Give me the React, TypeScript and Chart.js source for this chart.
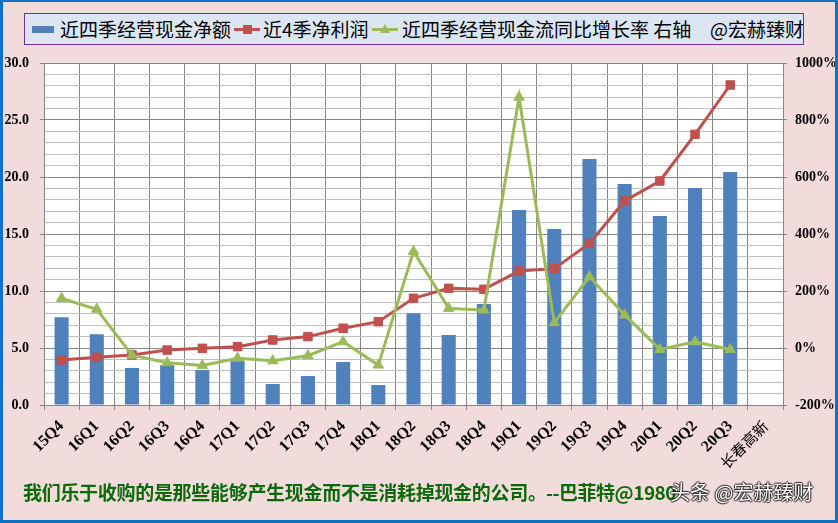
import React, { useEffect, useRef } from "react";
import { Chart, registerables } from "chart.js";

Chart.register(...registerables);

const categories = [
  "15Q4", "16Q1", "16Q2", "16Q3", "16Q4", "17Q1", "17Q2", "17Q3", "17Q4", "18Q1",
  "18Q2", "18Q3", "18Q4", "19Q1", "19Q2", "19Q3", "19Q4", "20Q1", "20Q2", "20Q3", "长春高新",
];
const cashFlow = [7.7, 6.2, 3.25, 3.5, 3.07, 3.9, 1.84, 2.54, 3.77, 1.75, 8.05, 6.14, 8.86, 17.1, 15.44, 21.58, 19.39, 16.58, 19.04, 20.44, null];
const netProfit = [3.95, 4.18, 4.39, 4.82, 4.97, 5.12, 5.7, 6.0, 6.73, 7.31, 9.36, 10.23, 10.15, 11.75, 11.96, 14.18, 17.9, 19.65, 23.74, 28.07, null];
const growth = [174, 136, -25, -52, -61, -36, -45, -27, 22, -60, 339, 139, 133, 880, 89, 250, 116, -5, 22, -5, null];

const seriesNames = ["近四季经营现金净额", "近4季净利润", "近四季经营现金流同比增长率 右轴"];
const credit = "@宏赫臻财";
const quoteMain = "我们乐于收购的是那些能够产生现金而不是消耗掉现金的公司。";
const quoteTail = "--巴菲特@1980";
const watermark = "头条 @宏赫臻财";

const BLUE = "#4F81BD";
const RED = "#C0504D";
const GREEN = "#9BBB59";
const PINK = "#F2DCDB";
const GRID_MAJOR = "#868686";
const GRID_MINOR = "#C0C0C0";

const bgPlugin = {
  id: "bgPlugin",
  beforeDraw(chart: any) {
    const { ctx, chartArea, width, height } = chart;
    ctx.save();
    ctx.fillStyle = PINK;
    ctx.fillRect(0, 0, width, height);
    ctx.fillStyle = "#FFFFFF";
    ctx.fillRect(chartArea.left, chartArea.top, chartArea.right - chartArea.left, chartArea.bottom - chartArea.top);
    ctx.restore();
  },
  afterDraw(chart: any) {
    const { ctx, width, height } = chart;
    ctx.save();
    ctx.fillStyle = "#1070C4";
    ctx.fillRect(0, 0, width, 2);
    ctx.fillRect(0, 0, 3, height);
    ctx.fillRect(width - 3, 0, 3, height);
    ctx.fillRect(0, height - 3, width, 3);
    ctx.restore();
  },
};

export default function App() {
  const ref = useRef<HTMLCanvasElement | null>(null);

  useEffect(() => {
    if (!ref.current) return;
    const chart = new Chart(ref.current, {
      type: "bar",
      data: {
        labels: categories,
        datasets: [
          {
            type: "line",
            label: seriesNames[2],
            data: growth,
            yAxisID: "y1",
            borderColor: GREEN,
            backgroundColor: GREEN,
            borderWidth: 3,
            pointStyle: "triangle",
            pointRadius: 6,
            pointBorderWidth: 1,
            tension: 0,
            order: 0,
          },
          {
            type: "line",
            label: seriesNames[1],
            data: netProfit,
            yAxisID: "y",
            borderColor: RED,
            backgroundColor: RED,
            borderWidth: 3,
            pointStyle: "rect",
            pointRadius: 6,
            pointBorderWidth: 1,
            tension: 0,
            order: 1,
          },
          {
            type: "bar",
            label: seriesNames[0],
            data: cashFlow,
            yAxisID: "y",
            backgroundColor: BLUE,
            borderWidth: 0,
            categoryPercentage: 1,
            barPercentage: 0.4,
            order: 2,
          },
        ],
      },
      options: {
        responsive: false,
        animation: false,
        devicePixelRatio: 1,
        layout: { padding: { top: 63, left: 0, right: 0, bottom: 0 } },
        plugins: { legend: { display: false }, tooltip: { enabled: false } },
        scales: {
          x: {
            offset: true,
            grid: { offset: true, color: GRID_MAJOR, tickColor: GRID_MAJOR, tickLength: 5, lineWidth: 1 },
            border: { color: GRID_MAJOR },
            ticks: {
              autoSkip: false,
              maxRotation: 45,
              minRotation: 45,
              padding: 7,
              color: "#000000",
              font: (ctx: any) =>
                ctx.index === 20
                  ? { family: "'Noto Sans CJK SC'", size: 15, weight: "normal" }
                  : { family: "'Liberation Serif'", size: 16, weight: "bold" },
            },
            afterFit: (s: any) => {
              s.height = 118;
              s.paddingLeft = 0;
              s.paddingRight = 0;
            },
          },
          y: {
            position: "left",
            min: 0,
            max: 30,
            grid: {
              color: (ctx: any) => (ctx.tick && Math.round(ctx.tick.value) % 5 === 0 ? GRID_MAJOR : GRID_MINOR),
              tickColor: (ctx: any) => (ctx.tick && Math.round(ctx.tick.value) % 5 === 0 ? GRID_MAJOR : "rgba(0,0,0,0)"),
              tickLength: 4,
            },
            border: { color: GRID_MAJOR },
            ticks: {
              stepSize: 1,
              autoSkip: false,
              padding: 11,
              color: "#000000",
              font: { family: "'Liberation Serif'", size: 14, weight: "bold" },
              callback: (v: any) => (Math.round(v) % 5 === 0 ? Number(v).toFixed(1) : ""),
            },
            afterFit: (s: any) => {
              s.width = 44;
              s.paddingTop = 0;
              s.paddingBottom = 0;
            },
          },
          y1: {
            position: "right",
            min: -200,
            max: 1000,
            grid: { drawOnChartArea: false, tickColor: GRID_MAJOR, tickLength: 4 },
            border: { color: GRID_MAJOR },
            ticks: {
              stepSize: 200,
              padding: 8,
              color: "#000000",
              font: { family: "'Liberation Serif'", size: 14, weight: "bold" },
              callback: (v: any) => `${v}%`,
            },
            afterFit: (s: any) => {
              s.width = 55;
              s.paddingTop = 0;
              s.paddingBottom = 0;
            },
          },
        },
      },
      plugins: [bgPlugin],
    } as any);
    return () => chart.destroy();
  }, []);

  const legendText: React.CSSProperties = {
    position: "absolute",
    top: 13,
    fontFamily: "'Noto Sans CJK SC'",
    fontSize: 19,
    lineHeight: "32px",
    color: "#000",
    whiteSpace: "nowrap",
  };

  const quoteStyle: React.CSSProperties = {
    position: "absolute",
    top: 478,
    fontFamily: "'Noto Sans CJK SC'",
    fontWeight: "bold",
    fontSize: 19,
    lineHeight: "28px",
    color: "#0A6A0A",
    whiteSpace: "nowrap",
  };

  return (
    <div style={{ position: "fixed", left: 0, top: 0, width: 838, height: 523, overflow: "hidden" }}>
      <canvas ref={ref} width={838} height={523} style={{ display: "block", width: 838, height: 523 }} />
      <div
        style={{
          position: "absolute",
          left: 24,
          top: 13,
          width: 780,
          height: 32,
          background: "#DCE6F2",
          border: "1px solid #7030A0",
          boxSizing: "border-box",
        }}
      />
      <div style={{ position: "absolute", left: 32, top: 26, width: 22, height: 7, background: BLUE }} />
      <span style={{ ...legendText, left: 60 }}>{seriesNames[0]}</span>
      <div style={{ position: "absolute", left: 234, top: 28, width: 26, height: 3, background: RED }} />
      <div style={{ position: "absolute", left: 243, top: 25, width: 9, height: 9, background: RED }} />
      <span style={{ ...legendText, left: 263 }}>{seriesNames[1]}</span>
      <div style={{ position: "absolute", left: 372, top: 28, width: 26, height: 3, background: GREEN }} />
      <div
        style={{
          position: "absolute",
          left: 380,
          top: 24,
          width: 0,
          height: 0,
          borderLeft: "5px solid transparent",
          borderRight: "5px solid transparent",
          borderBottom: "9px solid " + GREEN,
        }}
      />
      <span style={{ ...legendText, left: 402 }}>{seriesNames[2]}</span>
      <span style={{ ...legendText, left: 710 }}>{credit}</span>
      <span style={{ ...quoteStyle, left: 23, letterSpacing: "-0.3px" }}>{quoteMain}</span>
      <span style={{ ...quoteStyle, left: 546, letterSpacing: "-0.5px" }}>{quoteTail}</span>
      <span
        style={{
          position: "absolute",
          left: 670,
          top: 478,
          fontFamily: "'Noto Sans CJK SC'",
          fontSize: 20,
          lineHeight: "28px",
          color: "#FFFFFF",
          whiteSpace: "nowrap",
          textShadow:
            "1px 0 1px rgba(0,0,0,0.8), -1px 0 1px rgba(0,0,0,0.8), 0 1px 1px rgba(0,0,0,0.8), 0 -1px 1px rgba(0,0,0,0.8)",
        }}
      >
        {watermark}
      </span>
    </div>
  );
}
